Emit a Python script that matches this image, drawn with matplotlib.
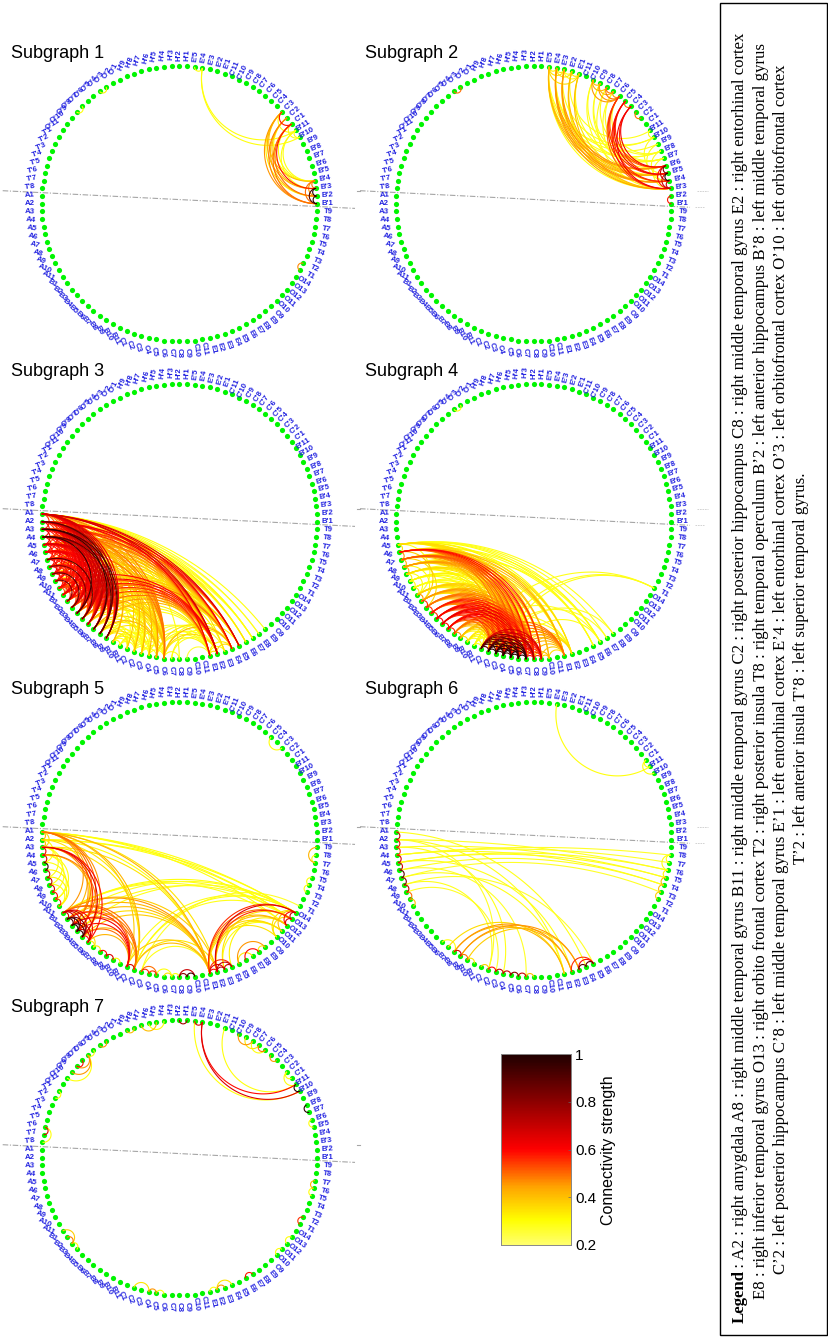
import numpy as np
import matplotlib
matplotlib.use("Agg")
import matplotlib.pyplot as plt
from matplotlib.colors import LinearSegmentedColormap
from matplotlib.patches import Rectangle

# electrode order round the circle, starting at A1 and going down the left side
NODES = (
    [f"A{i}" for i in range(1, 12)] + [f"B{i}" for i in range(1, 12)]
    + [f"C{i}" for i in range(1, 12)] + [f"E{i}" for i in range(1, 10)]
    + [f"O{i}" for i in range(9, 15)] + [f"T{i}" for i in range(1, 10)]
    + [f"B'{i}" for i in range(1, 12)] + [f"C'{i}" for i in range(1, 12)]
    + [f"E'{i}" for i in range(1, 6)] + [f"H'{i}" for i in range(1, 10)]
    + [f"O'{i}" for i in range(1, 12)] + [f"T'{i}" for i in range(1, 9)]
)

# every row: source then target:strength
SUB1 = [
    "E'4 E'5:.3 B'10:.3 B'11:.3",
    "C'3 C'1:.58 B'11:.3 B'1:.45 B'2:.32 B'3:.42 B'4:.4",
    "C'2 B'1:.48 B'2:.42 B'3:.4 B'4:.3",
    "C'1 B'10:.3 B'1:.5 B'2:.5 B'3:.58 B'4:.3",
    "B'11 B'3:.3 B'4:.3 B'10:.3",
    "B'1 B'2:1 B'3:.92 B'4:.5",
    "B'2 B'3:1 B'4:.45",
    "B'3 B'4:.5",
    "O'3 O'4:.32", "O'7 O'8:.3", "T1 T2:.47",
]
SUB2 = [
    "E'5 E'4:.33 E'3:.35 E'1:.36 B'3:.3 B'4:.4 B'5:.42 B'6:.36 B'8:.28 B'10:.28",
    "E'4 E'3:.33 E'2:.35 B'3:.44 B'4:.46 B'5:.42 B'6:.46 B'8:.28 B'9:.28",
    "E'3 E'2:.3 E'1:.3 B'3:.36 B'4:.45 B'5:.38 B'6:.45 B'10:.28",
    "E'2 E'1:.35 B'3:.34 B'4:.32 B'5:.42 B'11:.28",
    "E'1 B'3:.4 B'5:.34 B'7:.28",
    "C'10 C'9:.4 C'8:.42 C'6:.45 B'5:.28 B'7:.28",
    "C'9 C'7:.4 C'6:.45 B'6:.28 B'7:.28",
    "C'8 C'7:.48 C'6:.5 B'8:.28 B'3:.28",
    "C'7 C'6:.45 B'7:.28 B'4:.28",
    "C'6 B'3:.5 B'4:.55 B'5:.56 B'6:.5 B'8:.28",
    "C'5 C'4:.5 B'3:.58 B'4:.55 B'5:.62 B'6:.56",
    "C'4 B'3:.62 B'5:.56 B'6:.62",
    "C'3 C'2:.5",
    "B'10 B'5:.28 B'11:.3", "B'9 B'4:.28", "B'8 B'4:.28", "B'7 B'3:.28",
    "B'6 B'5:.85 B'4:.7 B'3:.6",
    "B'5 B'4:1 B'3:.7",
    "B'4 B'3:.7",
    "B'2 B'1:.58", "O'3 O'4:.5",
]
SUB3 = [
    "A1 A3:.55 A5:.5 A7:.45 A9:.5 A11:.55 B1:.6 B2:.58 B3:.62 B4:.62 B5:.66 B6:.64 B7:.68 B8:.66 B9:.62 B10:.42 C2:.4 C4:.42 C6:.48 C8:.3 E1:.62 E2:.68 E3:.35 E4:.62 E5:.66 E6:.34 E7:.3 E8:.28 E9:.3",
    "A2 A4:.6 A6:.55 A8:.55 A10:.6 B1:.62 B2:.6 B3:.62 B4:.65 B5:.68 B6:.7 B7:.72 B8:.9 B9:.72 B10:.42 C1:.38 C3:.38 C6:.42 E1:.52 E2:.62 E4:.56 E5:.62 E6:.3 E7:.3 E8:.25",
    "A3 A5:.62 A7:.58 A9:.58 A11:.6 B1:.62 B2:.62 B3:.64 B4:.66 B5:.68 B6:.72 B7:.95 B8:.74 B9:.92 C2:.34 C5:.46 C6:.5 E1:.46 E2:.56 E4:.5 E5:.56 E6:.3 E7:.28",
    "A4 A6:.6 A8:.58 A10:.58 B1:.62 B2:.64 B3:.66 B4:.96 B5:.7 B6:.68 B7:.72 B8:.9 B9:.7 C3:.4 C5:.42 C6:.46 E1:.42 E2:.5 E4:.46 E5:.48 E6:.28",
    "A5 A7:.58 A9:.6 A11:.58 B2:.6 B3:.6 B4:.62 B5:.64 B6:.62 B7:.66 B8:.64 B9:.6 C2:.34 C5:.38 C6:.42 E1:.38 E2:.44 E4:.42 E5:.44 E7:.26",
    "A6 A8:.58 A10:.58 B1:.58 B3:.6 B4:.62 B5:.6 B6:.62 B7:.6 B8:.6 B9:.58 C3:.34 C6:.5 E1:.36 E2:.42 E4:.38",
    "A7 A9:.62 A11:.58 B2:.58 B4:.6 B5:.9 B6:.6 B7:.58 B8:.6 B9:.55 C5:.36 C6:.42 E2:.38 E4:.36",
    "A8 A10:.58 B1:.55 B3:.58 B4:.82 B5:.6 B6:.58 B7:.56 B8:.56 C2:.32 C6:.36 E1:.34 E2:.36",
    "A9 A11:.58 B2:.56 B3:.88 B4:.6 B5:.58 B6:.56 B7:.55 C5:.34 E2:.34 E4:.33",
    "A10 B1:.52 B2:.82 B3:.56 B4:.56 B5:.56 B6:.52 C3:.3 C6:.32 E2:.3",
    "A11 B1:.52 B2:.56 B3:.54 B4:.52 B5:.52 B6:.48 C1:.28 C5:.3 E2:.6 E4:.3",
    "B1 C3:.3 C5:.32 C6:.36 E1:.54 E2:.62 E3:.32 E4:.38 E5:.34",
    "B2 C2:.3 C5:.33 C6:.38 E1:.48 E2:.58 E4:.42 E5:.38",
    "B3 C4:.3 C6:.36 E1:.46 E2:.56 E4:.5 E5:.36",
    "B4 C3:.28 C5:.32 C6:.42 E1:.38 E2:.54 E4:.38",
    "B5 C2:.28 C5:.34 C6:.38 E1:.36 E2:.5 E4:.36",
    "B6 C3:.28 C6:.35 E2:.46 E4:.34",
    "B7 C1:.28 C3:.32 C5:.38 E1:.33 E2:.42",
    "B8 C1:.3 C2:.28 C4:.32 C5:.42 E1:.3",
    "B9 C1:.33 C2:.36 C3:.28 C5:.34 E1:.28",
    "B10 C1:.28 C2:.32 C3:.28 C4:.28 B11:.3",
    "B11 C2:.28 C4:.28 C6:.3",
    "C2 C4:.28 C6:.28 E1:.26",
    "C3 C5:.28 C6:.3 E2:.26",
    "C4 C6:.3 E1:.28 E3:.27",
    "C5 E1:.28 E2:.3 E4:.34",
    "C6 C8:.28 E1:.32 E2:.36 E4:.42 E5:.3",
    "C7 E2:.28 E4:.3",
    "C9 E1:.26", "E1 E2:.34 E3:.3 E4:.32", "E2 E4:.36",
]
SUB4 = [
    "A5 A6:.35 B1:.28 C2:.3 C3:.32 C4:.34 C5:.34 C6:.36 C7:.36 C8:.36 C9:.34 E1:.32 E2:.3 E5:.3 E6:.28 E7:.28 E8:.28",
    "A6 A7:.45 B2:.38 C3:.48 C4:.5 C5:.52 C6:.54 C7:.58 C8:.6 C9:.56 C10:.42 E1:.42 E2:.36 E5:.28 E6:.3",
    "A7 A8:.42 B3:.36 C2:.4 C4:.46 C5:.48 C6:.5 C7:.52 C8:.52 C9:.48 C10:.38 E1:.4 E2:.34 E5:.3",
    "A8 A9:.4 B2:.3 C3:.36 C4:.38 C5:.4 C6:.44 C7:.46 C8:.44 C9:.4 E1:.36 E6:.28",
    "A9 A10:.32 B1:.3 C2:.32 C3:.32 C5:.34 C6:.34 C7:.34 C8:.36 E1:.3",
    "A10 A11:.3 C1:.3 C3:.3 C4:.3 C6:.3 C7:.32 C8:.3",
    "A11 B1:.32 C1:.28 C2:.3 C4:.3 C5:.3 C7:.3",
    "B1 B2:.45 C2:.32 C3:.33 C4:.35 C5:.36 C6:.38 C7:.38 C8:.36",
    "B2 B3:.55 C2:.34 C3:.36 C4:.4 C5:.42 C6:.45 C7:.44 C8:.4",
    "B3 B4:.55 C2:.38 C3:.42 C4:.46 C5:.48 C6:.5 C7:.5 C8:.46",
    "B4 B5:.55 C2:.46 C3:.48 C4:.52 C5:.55 C6:.58 C7:.55 C8:.5",
    "B5 B6:.6 C2:.5 C3:.54 C4:.58 C5:.6 C6:.62 C7:.58 C8:.52",
    "B6 B7:.6 C2:.54 C3:.56 C4:.6 C5:.62 C6:.64 C7:.6 C8:.54",
    "B7 B8:.55 C2:.5 C3:.56 C4:.56 C5:.6 C6:.62 C7:.58 C8:.52",
    "B8 B9:.45 C2:.4 C3:.42 C4:.46 C5:.5 C6:.5 C7:.46 C8:.44",
    "B9 B10:.35 C2:.32 C3:.34 C4:.38 C5:.4 C6:.38 C7:.36",
    "B10 C1:.3 C2:.3 C3:.32 C5:.34 C7:.32",
    "B11 C1:.28 C4:.28 C6:.3 E2:.28 T1:.28 E6:.27",
    "C1 C2:.9 C3:.92 C4:.88 C5:.85 C6:.85 C7:.82 C8:.7 C9:.65 E1:.5",
    "C2 C3:.98 C4:.95 C5:.95 C6:.9 C7:.9 C8:.75 C9:.65 E1:.5 E2:.3",
    "C3 C4:.95 C5:.98 C6:.95 C7:.92 C8:.7 C9:.62 E1:.48 T1:.28 E7:.27",
    "C4 C5:.95 C6:.98 C7:.95 C8:.65 C9:.6 E1:.48 T1:.28 E8:.27",
    "C5 C6:.98 C7:1 C8:.62 C9:.55 E1:.45 E2:.35",
    "C6 C7:1 C8:.6 C9:.55 E1:.45 E2:.35 E6:.28",
    "C7 C8:.6 C9:.55 E1:.42 E2:.36",
    "C8 C9:.55 C10:.4 E1:.4",
    "C9 C10:.38 E1:.38",
    "C10 E1:.35", "O'3 O'4:.3",
]
SUB5 = [
    "A1 A2:.4 A3:.36 B1:.45 B2:.42 B3:.5 B4:.5 B5:.45 C1:.38 C2:.42 E1:.42 E2:.35 O12:.3 O13:.3 O14:.3",
    "A2 A3:.4 A5:.3 B3:.35 C2:.35 E1:.3 O13:.3 O14:.3",
    "A3 A4:.62 A7:.3 A8:.3 B3:.45 B4:.55 B5:.66 B6:.6 C2:.35 E1:.35",
    "A4 A5:.65 A9:.3 A10:.3 B4:.4 B5:.48",
    "A5 A6:.95 A10:.3", "A6 A7:.7 A11:.32", "A7 A8:.7 A11:.32", "A8 A9:.65 A11:.3",
    "A9 A10:.6", "A10 A11:.55",
    "B1 B2:.7 B3:.7 B4:.65 B5:.7 B6:.6 C1:.5 C2:.5 E1:.45 E2:.38 O12:.28 O13:.28 O14:.3",
    "B2 B3:.9 B4:.95 B5:.85 C1:.55 C2:.48 E1:.42 O14:.28",
    "B3 B4:1 B5:.9 B6:.7 C1:.62 C2:.5 E1:.4 O13:.28",
    "B4 B5:.95 B6:.65 C1:.58 E1:.36 O14:.28",
    "B5 B6:.6 B7:.35 C1:.5 C2:.42 E1:.38",
    "B6 B7:.33 C1:.42", "B7 B8:.33", "B8 B9:.6", "B9 B10:.65", "B10 B11:.32",
    "C1 C2:.68 E1:.38 O14:.28", "C2 E1:.4 E2:.34 O14:.3 O13:.28",
    "C3 C4:.55 C5:.5 E1:.28 T1:.27", "C4 C5:.55", "C5 C7:.3", "C6 C7:.35", "C7 C8:.3",
    "C8 C9:.8 C10:.7", "C9 C10:.95",
    "E1 E2:.6 E3:.65 E4:.55 O10:.35 O11:.36 O12:.4 O13:.5 O14:.55",
    "E2 E3:.7 E4:.7 O11:.35 O12:.4 O13:.55 O14:.65",
    "E3 E4:.7 O13:.35 O11:.3", "E4 O12:.32",
    "E5 E9:.45 E7:.35", "E6 E8:.6", "E8 E9:.33",
    "O10 O13:.35 O14:.35", "O11 O14:.4", "O12 O13:.65 O14:.6", "O13 O14:.7",
    "T3 T4:.3", "T4 T5:.3", "T9 T7:.42", "T7 T8:.3", "C'3 C'5:.3",
]
SUB6 = [
    "E'4 B'11:.3", "C'1 B'10:.3 B'11:.3",
    "A1 A2:.7 E4:.28", "A2 A3:.6 E1:.28 C2:.27 T6:.27", "A3 A4:.55 C4:.28 T5:.28",
    "A4 A5:.65 T4:.28 T7:.27 T8:.27", "A5 A6:.7 T5:.28 T6:.28 E2:.28", "A6 A7:.9 T4:.28 C7:.27",
    "A7 A8:.8 T3:.27 E1:.28", "A8 A9:.7 C2:.28 E5:.27", "A9 A10:.5 C3:.27", "A10 A11:.4",
    "B6 B8:.3", "B7 E1:.36", "B8 B9:.65 E1:.42 E2:.45", "B9 B10:.5 E2:.42 E3:.45",
    "B10 B11:.35 E3:.38", "C1 C2:.38",
    "C2 C3:.6", "C3 C4:.7", "C4 C5:.7", "C5 C6:.8", "C6 C7:.7", "C7 C8:.4",
    "E2 E5:.55", "E3 E4:.9 E5:.6", "E4 E5:.9",
    "T2 T3:.38", "T3 T4:.4", "T4 T5:.4", "T5 T6:.32", "T6 T8:.3", "T7 T8:.3",
]
SUB7 = [
    "H'1 H'2:.75", "E'4 E'5:.65 B'10:.65 B'11:.6", "E'5 B'10:.3", "E'1 B'11:.3",
    "B'10 B'11:1", "B'7 B'8:1", "B'5 B'6:.3",
    "C'10 C'8:.45", "C'9 C'7:.35", "C'8 C'6:.3", "C'7 C'6:.5", "C'5 C'4:.45", "C'2 C'1:.3 B'11:.3",
    "H'9 H'8:.4", "H'7 H'5:.4", "H'6 H'4:.3", "O'3 O'4:.45", "O'5 O'6:.3",
    "O'6 O'8:.45 O'9:.45 O'10:.3", "O'7 O'8:.6", "T'1 T'2:.3",
    "T'6 T'7:.65 T'8:.3", "T7 T6:.42", "T6 T5:.3", "T1 T2:.55", "O12 O13:.3", "O10 O11:.3",
    "E6 E7:.58", "E1 E2:.3", "E2 E3:.45 E4:.35", "C2 C4:.35", "C4 C5:.45", "C5 C6:.3",
    "B1 B3:.38", "B2 B3:.48", "B3 B4:.3",
]
SUBGRAPHS = [SUB1, SUB2, SUB3, SUB4, SUB5, SUB6, SUB7]

CBAR_TICKS = [0.2, 0.4, 0.6, 0.8, 1]
LEGEND_LINES = [
    " : A2 : right amygdala A8 : right middle temporal gyrus B11 : right middle temporal gyrus C2 : right posterior hippocampus C8 : right middle temporal gyrus E2 : right entorhinal cortex",
    "E8 : right inferior temporal gyrus O13 : right orbito frontal cortex T2 : right posterior insula T8 : right temporal operculum B\u20192 : left anterior hippocampus B\u20198 : left middle temporal gyrus",
    "C\u20192 : left posterior hippocampus C\u20198 : left middle temporal gyrus E\u20191 : left entorhinal cortex E\u20194 : left entorhinal cortex O\u20193 : left orbitofrontal cortex O\u201910 : left orbitofrontal cortex",
    "T\u20192 : left anterior insula T\u20198 : left superior temporal gyrus.",
]

# layout in pixels
W, H = 829, 1339
R = 137.7
CENTERS = [(179.3, 203.7), (533.7, 203.7), (179.3, 521.7), (533.7, 521.7),
           (179.3, 839.7), (533.7, 839.7), (179.3, 1157.7)]
TITLE_POS = [(11.5, 53), (365, 53), (11.5, 371), (365, 371), (11.5, 689), (365, 689), (11.5, 1007)]

cmap = LinearSegmentedColormap.from_list("conn", [
    (0.0, "#ffff6a"), (0.125, "#ffff00"), (0.3, "#ffa500"), (0.5, "#ff0000"),
    (0.75, "#8f0000"), (1.0, "#220000")], N=64)

plt.rcParams["font.family"] = ["Liberation Sans", "DejaVu Sans"]
fig = plt.figure(figsize=(W / 100, H / 100), dpi=100)
ax = fig.add_axes([0, 0, 1, 1])
ax.set_xlim(0, W)
ax.set_ylim(H, 0)
ax.axis("off")

step = 2 * np.pi / len(NODES)
theta = {name: np.pi + (i - 1) * step for i, name in enumerate(NODES)}


def parse_edges(rows):
    edges = []
    for row in rows:
        parts = row.split()
        for item in parts[1:]:
            tgt, val = item.split(":")
            edges.append((parts[0], tgt, float(val)))
    return sorted(edges, key=lambda e: e[2])


def draw_arc(cx, cy, a, b, val):
    # arc meeting the node circle at right angles
    p1 = np.array([R * np.cos(a), R * np.sin(a)])
    p2 = np.array([R * np.cos(b), R * np.sin(b)])
    d = np.arctan2(np.sin(b - a), np.cos(b - a))
    mid = a + d / 2
    half = abs(d) / 2
    c = R / np.cos(half) * np.array([np.cos(mid), np.sin(mid)])
    rad = R * np.tan(half)
    s = np.arctan2(*(p1 - c)[::-1])
    e = np.arctan2(*(p2 - c)[::-1])
    delta = np.arctan2(np.sin(e - s), np.cos(e - s))
    t = np.linspace(s, s + delta, 60)
    ax.plot(cx + c[0] + rad * np.cos(t), cy - c[1] - rad * np.sin(t),
            color=cmap((val - 0.2) / 0.8), lw=0.8, solid_capstyle="butt", zorder=2)


def draw_labels(cx, cy):
    for name, a in theta.items():
        deg = np.degrees(a) % 360
        if 90 < deg < 270:
            # left half: mirrored rotation, centred text
            x = cx + (R + 12) * np.cos(a)
            y = cy - (R + 12) * np.sin(a)
            ax.text(x, y, name, fontsize=5.6, fontweight="bold", color="#2222e0",
                    rotation=180 - deg, ha="center", va="center",
                    rotation_mode="anchor", zorder=4)
        else:
            x = cx + (R + 16.5) * np.cos(a)
            y = cy - (R + 16.5) * np.sin(a)
            rot = deg - 360 if deg > 180 else deg
            ax.text(x, y, name, fontsize=5.6, fontweight="bold", color="#2222e0",
                    rotation=rot, ha="right", va="center",
                    rotation_mode="anchor", zorder=4)


for i, rows in enumerate(SUBGRAPHS):
    cx, cy = CENTERS[i]
    left = i % 2 == 0
    x0 = 2.7 if left else 360
    x1 = 355 if left else 690
    # the slanted grey dash-dot line and its stray stub
    ax.plot([x0, x1], [cy - 13, cy + (4.7 if left else 3.6)], color="#a6a6a6", lw=0.8,
            ls=(0, (5, 1.5, 1, 1.5)), zorder=1)
    if left:
        ax.plot([357, 360], [cy - 13, cy - 13], color="#a6a6a6", lw=0.8, zorder=1)
    else:
        ax.plot([697, 708], [cy - 13, cy - 13], color="#cccccc", lw=0.6, ls=(0, (2, 1)), zorder=1)
        ax.plot([695, 704], [cy + 3.5, cy + 3.5], color="#cccccc", lw=0.6, ls=(0, (2, 1)), zorder=1)

    xs = [cx + R * np.cos(theta[n]) for n in NODES]
    ys = [cy - R * np.sin(theta[n]) for n in NODES]
    ax.scatter(xs, ys, s=14, color="#00f500", linewidths=0, zorder=1.5)

    for src, tgt, val in parse_edges(rows):
        draw_arc(cx, cy, theta[src], theta[tgt], val)
    draw_labels(cx, cy)
    ax.text(TITLE_POS[i][0], TITLE_POS[i][1], f"Subgraph {i + 1}", fontsize=13,
            ha="left", va="center", color="black")

# colorbar
cax = fig.add_axes([500.7 / W, 1 - 1245 / H, 70.3 / W, 190.7 / H])
grad = np.linspace(1, 0.2, 64).reshape(-1, 1)
cax.imshow(grad, cmap=cmap, vmin=0.2, vmax=1, aspect="auto", extent=[0, 1, 0.2, 1])
cax.set_xticks([])
cax.yaxis.tick_right()
cax.set_yticks(CBAR_TICKS)
cax.set_yticklabels([str(t) for t in CBAR_TICKS], fontsize=11)
cax.tick_params(axis="y", length=2, width=0.5, pad=3, color="#666666", direction="in")
for sp in cax.spines.values():
    sp.set_color("#888888")
    sp.set_linewidth(0.7)
ax.text(609, 1150, "Connectivity strength", rotation=90, fontsize=11.5, ha="center", va="center")

# legend box
ax.add_patch(Rectangle((720, 3), 106.7, 1332, fill=False, ec="black", lw=1, zorder=3))
serif = ["Liberation Serif", "DejaVu Serif"]
ax.text(740, 1323, "Legend", rotation=90, family=serif, fontweight="bold", fontsize=12.05,
        ha="center", va="bottom")
ax.text(740, 1272, LEGEND_LINES[0], rotation=90, family=serif, fontsize=12.05,
        ha="center", va="bottom")
for x, line, yc in zip([761, 781, 801], LEGEND_LINES[1:], [671, 669, 668]):
    ax.text(x, yc, line, rotation=90, family=serif, fontsize=12.05, ha="center", va="center")

fig.savefig("out.png", dpi=100)
